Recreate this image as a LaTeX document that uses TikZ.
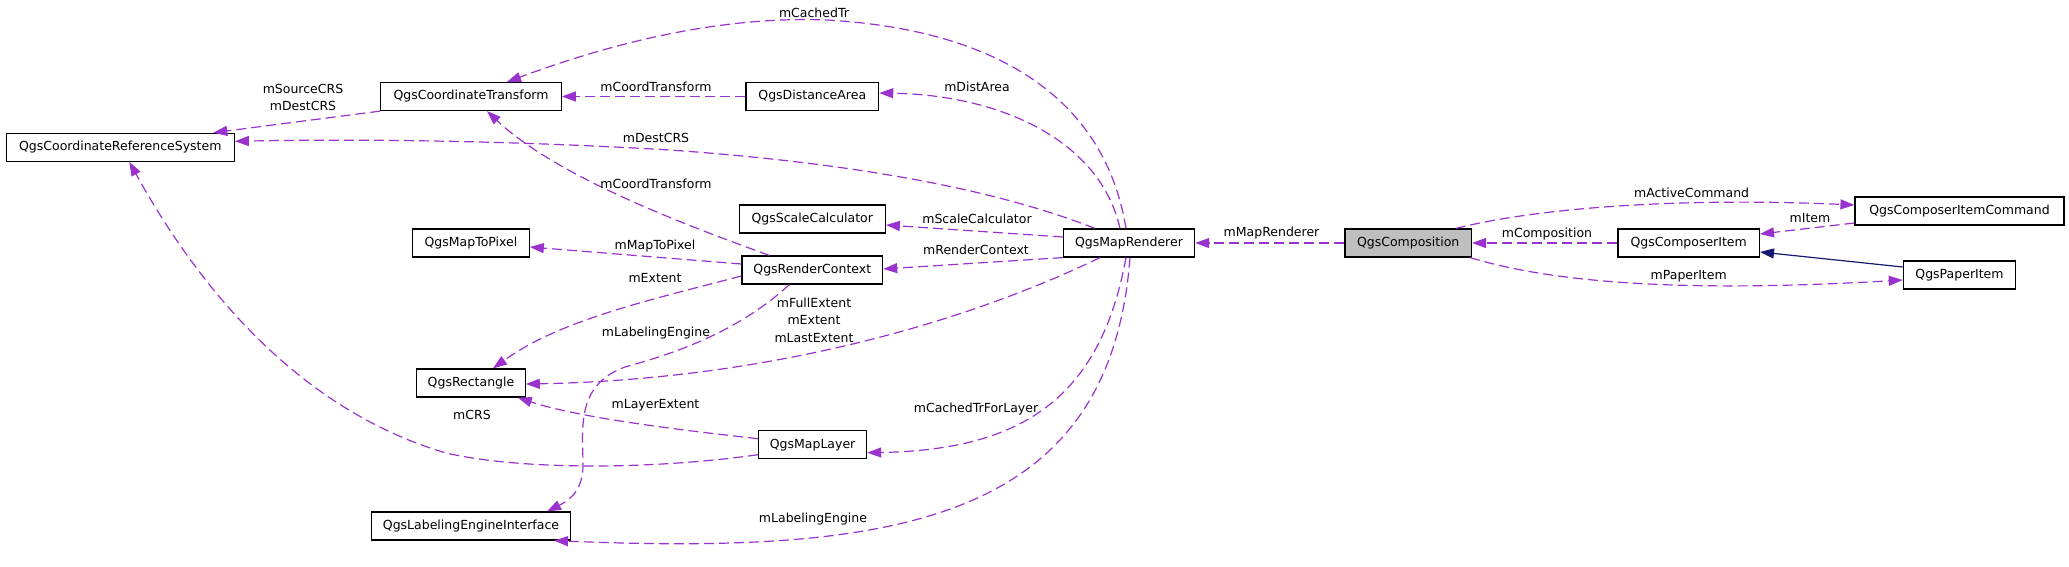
\documentclass[tikz,border=0pt]{standalone}
\usepackage{fontspec}
\setmainfont{DejaVu Sans}
\usetikzlibrary{arrows.meta,calc}
\definecolor{edgepurple}{HTML}{9A32CD}
\definecolor{inhblue}{HTML}{191970}

\begin{document}
\begin{tikzpicture}[x=1pt, y=-1pt,
	cls/.style={draw=black, line width=1.2pt, minimum height=28pt, inner sep=0pt, font=\fontsize{12.5}{15}\selectfont},
	dep/.style={draw=edgepurple, line width=1.2pt, dash pattern=on 10pt off 5pt, -{Triangle[length=14pt,width=10pt]}},
	inh/.style={draw=inhblue, line width=1.2pt, -{Triangle[length=14pt,width=10pt]}},
	lbl/.style={inner sep=0pt, align=center, font=\fontsize{12.5}{17.5}\selectfont}]
\useasboundingbox (0,0) rectangle (2069,567);

% classes
\foreach \x/\y/\w/\fc/\name/\txt in {
		120.3/147.3/228/white/crs/QgsCoordinateReferenceSystem,
		471/96.5/180.4/white/ctrans/QgsCoordinateTransform,
		471/243/116.5/white/m2p/QgsMapToPixel,
		471/383/108.4/white/rect/QgsRectangle,
		471/526/198.6/white/lei/QgsLabelingEngineInterface,
		812.3/96.5/132.7/white/dist/QgsDistanceArea,
		812.3/219/146/white/scal/QgsScaleCalculator,
		812.3/270/140.7/white/rctx/QgsRenderContext,
		812.6/444.7/108/white/layer/QgsMapLayer,
		1129/243/131.2/white/mr/QgsMapRenderer,
		1408.2/243/126.5/black!25/comp/QgsComposition,
		1688.7/243/141.4/white/citem/QgsComposerItem,
		1959.5/211/209/white/cmd/QgsComposerItemCommand,
		1959.5/275/112.3/white/paper/QgsPaperItem
	}
	{
		\node [cls, fill=\fc, minimum width=\w] (\name) at (\x,\y) {\txt};
	}

% members
\draw [dep] (ctrans.south west) -- ($(crs.north)+(93,0)$);
\draw [dep] ($(mr.north)+(-3,0)$) .. controls (1105,100) and (1000,30) .. (827,20) .. controls (700,15) and (580,55) .. ($(ctrans.north)+(36,0)$);
\draw [dep] (dist.west) -- (ctrans.east);
\draw [dep] ($(mr.north)+(-9,0)$) .. controls (1100,140) and (1000,95) .. ($(dist.east)+(0,-3.5)$);
\draw [dep] ($(mr.north)+(-34,0)$) .. controls (1010,195) and (880,165) .. (670,150) .. controls (500,140) and (350,139) .. ($(crs.east)+(0,-6)$);
\draw [dep] ($(rctx.north)+(-43,0)$) .. controls (700,230) and (560,180) .. ($(ctrans.south)+(16,0)$);
\draw [dep] ($(mr.west)+(0,-6)$) -- ($(scal.east)+(0,6)$);
\draw [dep] (mr.south west) -- ($(rctx.east)+(0,-1)$);
\draw [dep] ($(rctx.west)+(0,-6)$) -- ($(m2p.east)+(0,4)$);
\draw [dep] ($(rctx.west)+(0,6)$) .. controls (650,300) and (560,320) .. ($(rect.north)+(22,0)$);
\draw [dep] ($(rctx.south)+(-23,0)$) .. controls (740,330) and (680,352) .. (625,367) .. controls (575,385) and (583,430) .. (583,465) .. controls (583,490) and (570,500) .. ($(lei.north)+(76,0)$);
\draw [dep] ($(mr.south)+(-29,0)$) .. controls (950,330) and (750,380) .. ($(rect.east)+(0,1)$);
\draw [dep] ($(layer.west)+(0,-6)$) .. controls (680,430) and (580,418) .. ($(rect.south east)+(-8,0)$);
\draw [dep] ($(layer.west)+(0,10)$) .. controls (650,470) and (520,470) .. (446,453) .. controls (300,410) and (200,290) .. ($(crs.south)+(9,0)$);
\draw [dep] ($(mr.south)+(-3,0)$) .. controls (1100,400) and (1020,450) .. ($(layer.east)+(0,8)$);
\draw [dep] ($(mr.south)+(1,0)$) .. controls (1110,520) and (900,555) .. ($(lei.south)+(83,0)$);
\draw [dep] (comp.west) -- (mr.east);
\draw [dep] (citem.west) -- (comp.east);
\draw [dep] ($(comp.north)+(47.5,0)$) .. controls (1550,205) and (1700,198) .. ($(cmd.west)+(0,-6)$);
\draw [dep] ($(cmd.west)+(0,12)$) -- ($(citem.east)+(0,-9)$);
\draw [dep] ($(comp.south east)+(-2,0)$) .. controls (1560,285) and (1700,292) .. ($(paper.west)+(0,5)$);
\draw [inh] ($(paper.west)+(0,-8)$) -- ($(citem.east)+(0,9)$);

% member names
\foreach \x/\y/\txt [count=\i] in {
		303/97.7/{mSourceCRS\\mDestCRS},
		814/12.7/mCachedTr,
		656/86.7/mCoordTransform,
		977/86.7/mDistArea,
		656/137.7/mDestCRS,
		656/184/mCoordTransform,
		977/218.7/mScaleCalculator,
		976/250.3/mRenderContext,
		655/245.7/mMapToPixel,
		655/278/mExtent,
		656/332.7/mLabelingEngine,
		814/320.2/{mFullExtent\\mExtent\\mLastExtent},
		655.5/405/mLayerExtent,
		472/414.7/mCRS,
		976/408.7/mCachedTrForLayer,
		813/518.7/mLabelingEngine,
		1271.5/233.3/mMapRenderer,
		1547/234/mComposition,
		1691.6/193.3/mActiveCommand,
		1810/218/mItem,
		1690.7/276.7/mPaperItem
	}
	{
		\node [lbl] (lab\i) at (\x,\y) {\txt};
	}

\end{tikzpicture}
\end{document}
